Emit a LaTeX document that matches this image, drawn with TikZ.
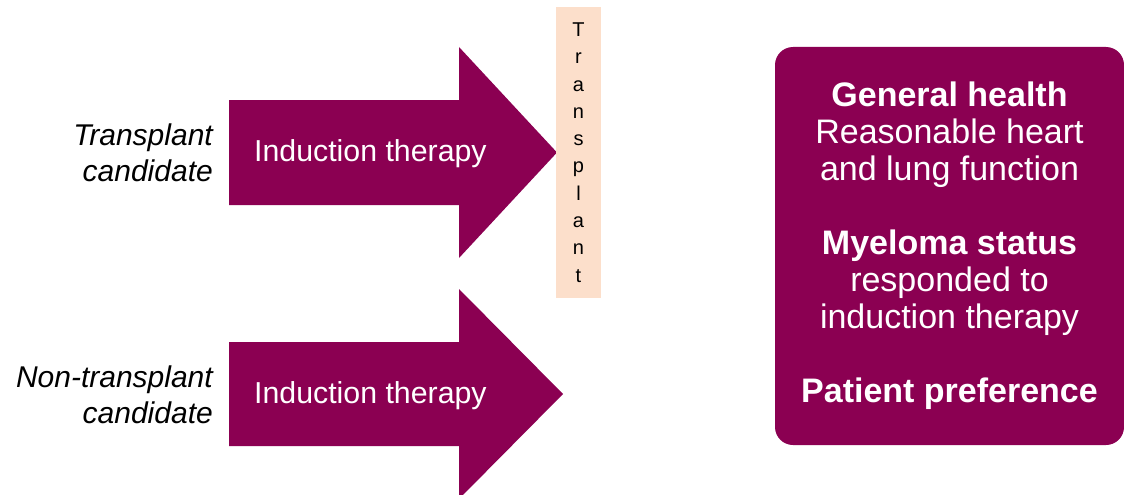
\documentclass[tikz,border=0pt]{standalone}
\usepackage{fontspec}
\setmainfont{Liberation Sans}
\usepackage{xcolor}
\usepackage{tikz}
\usetikzlibrary{positioning}
\definecolor{plum}{RGB}{139,0,82}
\definecolor{peach}{RGB}{252,223,203}
\tikzset{
  bigarrow/.style={fill=plum, draw=none},
  armtext/.style={text=white, font=\fontsize{30.3}{36}\selectfont, anchor=west, inner sep=0pt},
  who/.style={font=\fontsize{30}{36}\selectfont\itshape, align=right, anchor=east, inner sep=0pt},
  stepbar/.style={fill=peach, draw=none, minimum width=45pt, minimum height=291pt, inner sep=0pt,
    align=center, font=\fontsize{20}{27.3}\selectfont},
  criteria/.style={fill=plum, draw=none, rounded corners=18pt, minimum width=349pt, minimum height=398pt,
    text=white, align=center, font=\fontsize{34}{37}\selectfont},
}

\begin{document}
\begin{tikzpicture}[x=1pt, y=-1pt]
\useasboundingbox (0,0) rectangle (1124,495);
\clip (0,0) rectangle (1124,495);
% arrows
\fill[bigarrow] (229,100) -- (459,100) -- (459,47) -- (557,152.5) -- (459,258) -- (459,205) -- (229,205) -- cycle;
\fill[bigarrow] (229,342) -- (459,342) -- (459,289) -- (563,394) -- (459,499) -- (459,446) -- (229,446) -- cycle;
\node[armtext] (ind1) at (254,154) {Induction therapy};
\node[armtext] (ind2) at (254,395.5) {Induction therapy};
\node[who] (tc) at (213,153) {Transplant\\candidate};
\node[who] (ntc) at (213,394.5) {Non-transplant\\candidate};
% transplant bar
\node[stepbar] (tx) at (578.5,152.5) {T\\r\\a\\n\\s\\p\\l\\a\\n\\t};
% criteria box
\node[criteria] (crit) at (949.5,246)
  {\textbf{General health}\\Reasonable heart\\and lung function\\[37pt]
  \textbf{Myeloma status}\\responded to\\induction therapy\\[37pt]\textbf{Patient preference}};
\end{tikzpicture}
\end{document}
